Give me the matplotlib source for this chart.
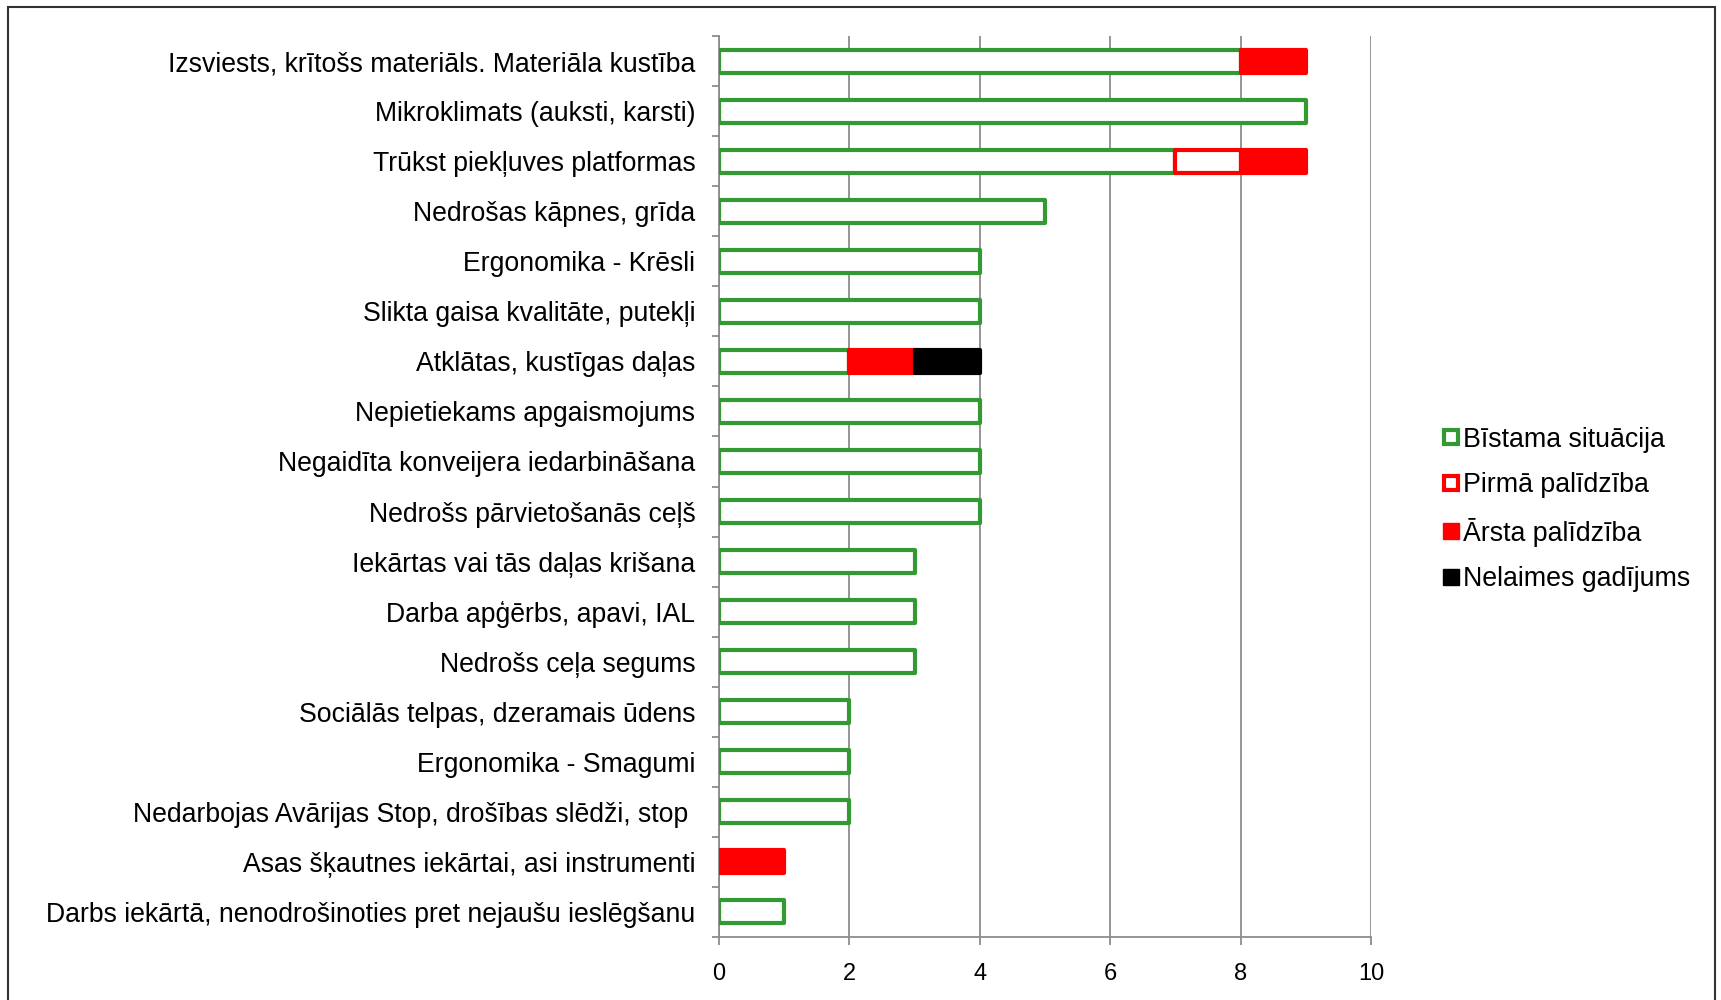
import matplotlib
matplotlib.use("Agg")
import matplotlib.pyplot as plt
from matplotlib import font_manager
from matplotlib.patches import Rectangle
from matplotlib.lines import Line2D
from matplotlib.ticker import FixedLocator
import numpy as np

categories = [
    "Izsviests, krītošs materiāls. Materiāla kustība",
    "Mikroklimats (auksti, karsti)",
    "Trūkst piekļuves platformas",
    "Nedrošas kāpnes, grīda",
    "Ergonomika - Krēsli",
    "Slikta gaisa kvalitāte, putekļi",
    "Atklātas, kustīgas daļas",
    "Nepietiekams apgaismojums",
    "Negaidīta konveijera iedarbināšana",
    "Nedrošs pārvietošanās ceļš",
    "Iekārtas vai tās daļas krišana",
    "Darba apģērbs, apavi, IAL",
    "Nedrošs ceļa segums",
    "Sociālās telpas, dzeramais ūdens",
    "Ergonomika - Smagumi",
    "Nedarbojas Avārijas Stop, drošības slēdži, stop ",
    "Asas šķautnes iekārtai, asi instrumenti",
    "Darbs iekārtā, nenodrošinoties pret nejaušu ieslēgšanu",
]
bistama = [8, 9, 7, 5, 4, 4, 2, 4, 4, 4, 3, 3, 3, 2, 2, 2, 0, 1]
pirma = [0, 0, 1, 0, 0, 0, 0, 0, 0, 0, 0, 0, 0, 0, 0, 0, 0, 0]
arsta = [1, 0, 1, 0, 0, 0, 1, 0, 0, 0, 0, 0, 0, 0, 0, 0, 1, 0]
nelaimes = [0, 0, 0, 0, 0, 0, 1, 0, 0, 0, 0, 0, 0, 0, 0, 0, 0, 0]
series_names = ["Bīstama situācija", "Pirmā palīdzība", "Ārsta palīdzība", "Nelaimes gadījums"]
x_ticks = [0, 2, 4, 6, 8, 10]

GREEN = "#339933"
RED = "#ff0000"
BLACK = "#000000"
GRID = "#8c8c8c"

avail = {f.name for f in font_manager.fontManager.ttflist}
main_font = "Liberation Sans" if "Liberation Sans" in avail else "DejaVu Sans"
narrow_font = "Liberation Sans Narrow" if "Liberation Sans Narrow" in avail else main_font
plt.rcParams["font.family"] = [main_font, "DejaVu Sans"]

fig = plt.figure(figsize=(17.21, 10.0), dpi=100)
ax = fig.add_axes([719 / 1721, 1 - 937 / 1000, (1371 - 719) / 1721, (937 - 36) / 1000])

n = len(categories)
y = np.arange(n)
h = 0.46
lw = 3.0

series = [
    (bistama, "white", GREEN),
    (pirma, "white", RED),
    (arsta, RED, RED),
    (nelaimes, BLACK, BLACK),
]
left = np.zeros(n)
for vals, fc, ec in series:
    v = np.array(vals, dtype=float)
    idx = v > 0
    ax.barh(y[idx], v[idx], left=left[idx], height=h, facecolor=fc,
            edgecolor=ec, linewidth=lw, joinstyle="round", zorder=3)
    left += v

ax.set_xlim(0, 10)
ax.set_ylim(n - 0.5, -0.5)
ax.xaxis.set_major_locator(FixedLocator(x_ticks))
ax.set_yticks(y)
ax.set_yticklabels(categories, fontsize=19.2, family=[main_font, "DejaVu Sans"])
ax.yaxis.set_minor_locator(FixedLocator(np.arange(-0.5, n, 1.0)))
ax.tick_params(axis="y", which="major", length=0, pad=17)
ax.tick_params(axis="y", which="minor", length=5, color=GRID, width=1.3)
ax.tick_params(axis="x", which="major", length=6, color=GRID, width=1.3, pad=12.5)
for lab in ax.get_xticklabels():
    lab.set_fontfamily([narrow_font, "DejaVu Sans"])
    lab.set_fontsize(17)

ax.grid(axis="x", color=GRID, linewidth=1.3, zorder=0)
ax.set_axisbelow(True)
for s in ["top", "right"]:
    ax.spines[s].set_visible(False)
for s in ["left", "bottom"]:
    ax.spines[s].set_color(GRID)
    ax.spines[s].set_linewidth(1.3)

handles = [
    Line2D([], [], linestyle="none", marker="s", markersize=10, markerfacecolor="white",
           markeredgecolor=GREEN, markeredgewidth=3),
    Line2D([], [], linestyle="none", marker="s", markersize=10, markerfacecolor="white",
           markeredgecolor=RED, markeredgewidth=3),
    Line2D([], [], linestyle="none", marker="s", markersize=12, markerfacecolor=RED,
           markeredgecolor=RED, markeredgewidth=1),
    Line2D([], [], linestyle="none", marker="s", markersize=12, markerfacecolor=BLACK,
           markeredgecolor=BLACK, markeredgewidth=1),
]
fig.legend(handles, series_names, loc="upper left", bbox_to_anchor=(1432 / 1721, 1 - 416 / 1000),
           frameon=False, fontsize=19.3, handlelength=0.65, handletextpad=0.12,
           labelspacing=0.73, borderaxespad=0)

fig.add_artist(Rectangle((8 / 1721, -0.05), (1715 - 8) / 1721, 1.05 - 7 / 1000,
                         transform=fig.transFigure, fill=False, edgecolor="#333333",
                         linewidth=1.5, clip_on=False))

fig.savefig("out.png", dpi=100)
